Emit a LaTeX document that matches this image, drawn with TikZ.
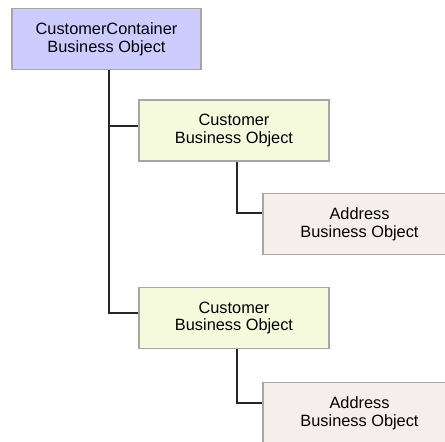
\documentclass[tikz,border=0pt]{standalone}
\usepackage{fontspec}
\setmainfont{Liberation Sans}
\definecolor{contfill}{RGB}{204,204,255}
\definecolor{custfill}{RGB}{245,250,220}
\definecolor{addrfill}{RGB}{246,237,237}
\begin{document}
\begin{tikzpicture}[x=0.02cm,y=-0.02cm,
	bobox/.style={draw=gray!70,line width=0.9pt,align=center,inner sep=0pt,
		minimum width=3.8cm,minimum height=1.22cm,font=\fontsize{9.3}{10.2}\selectfont},
	link/.style={line width=0.9pt,black!85}]
	\useasboundingbox (0,0) rectangle (445,441);
	\clip (0,0) rectangle (445,441);
	%Container
	\node[bobox,fill=contfill,minimum width=3.78cm] (cont) at (106.5,39) {CustomerContainer\\Business Object};
	%Customer
	\node[bobox,fill=custfill] (custA) at (234,130.5) {Customer\\Business Object};
	\node[bobox,fill=custfill] (custB) at (234,318) {Customer\\Business Object};
	%Address
	\node[bobox,fill=addrfill,minimum width=3.86cm] (addrA) at (359.5,224) {Address\\Business Object};
	\node[bobox,fill=addrfill,minimum width=3.86cm] (addrB) at (359.5,413) {Address\\Business Object};
	%Lines
	\draw[link] ([xshift=1.4pt]cont.south) |- ([yshift=2.5pt]custA.west);
	\draw[link] ([xshift=1.4pt]cont.south) |- ([yshift=2.8pt]custB.west);
	\draw[link] ([xshift=1.7pt]custA.south) |- ([yshift=6.2pt]addrA.west);
	\draw[link] ([xshift=1.7pt]custB.south) |- ([yshift=5.7pt]addrB.west);
\end{tikzpicture}
\end{document}
